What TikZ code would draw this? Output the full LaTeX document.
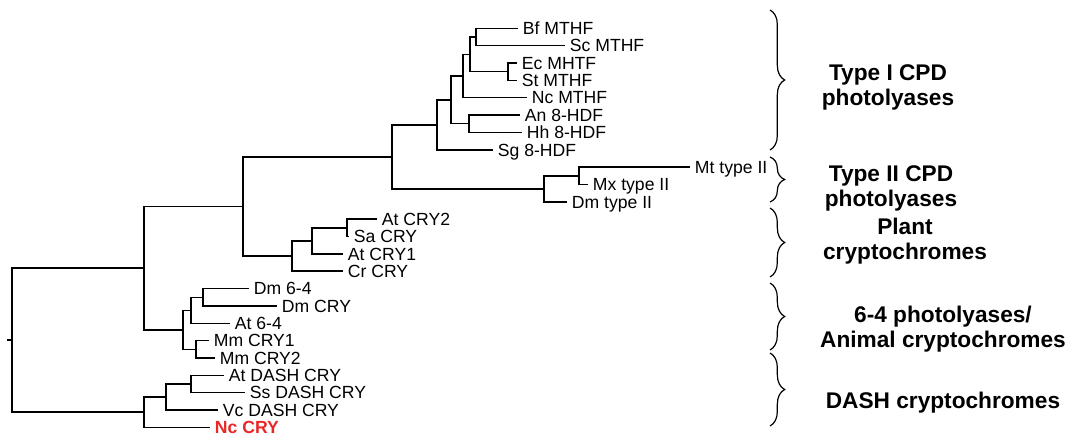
\documentclass[tikz,border=0pt]{standalone}
\usepackage{fontspec}
\setmainfont{Liberation Sans}
\usetikzlibrary{decorations.pathreplacing}
\definecolor{cryred}{RGB}{232,40,40}
\tikzset{
  leaf/.style={anchor=west, inner xsep=3.5pt, inner ysep=0pt, text height=9.45pt, text depth=0pt, font=\fontsize{13.2}{15}\selectfont},
  redleaf/.style={leaf, text=cryred, font=\fontsize{13.2}{15}\selectfont\bfseries},
  branch/.style={line width=1.1pt},
  group/.style={anchor=base, align=center, inner sep=0pt, font=\fontsize{17}{18.75}\selectfont\bfseries},
  clade/.style={decorate, decoration={brace, amplitude=11pt}, line width=0.9pt}
}
\begin{document}
\begin{tikzpicture}[x=0.75pt,y=-0.75pt]
\useasboundingbox (0,0) rectangle (1068,434);
% leaves
\node[leaf] (bf) at (518,28.3) {Bf MTHF};
\node[leaf] (sc) at (565,45.7) {Sc MTHF};
\node[leaf] (ec) at (517,63.0) {Ec MHTF};
\node[leaf] (st) at (517,80.4) {St MTHF};
\node[leaf] (ncm) at (527,97.7) {Nc MTHF};
\node[leaf] (an) at (520,115.1) {An 8-HDF};
\node[leaf] (hh) at (522,132.4) {Hh 8-HDF};
\node[leaf] (sg) at (493,149.8) {Sg 8-HDF};
\node[leaf] (mt) at (690,167.1) {Mt type II};
\node[leaf] (mx) at (588,184.5) {Mx type II};
\node[leaf] (dmii) at (567,201.8) {Dm type II};
\node[leaf] (atcrytwo) at (377,219.2) {At CRY2};
\node[leaf] (sa) at (349,236.5) {Sa CRY};
\node[leaf] (atcryone) at (343,253.9) {At CRY1};
\node[leaf] (cr) at (343,271.2) {Cr CRY};
\node[leaf] (dmsf) at (249,288.6) {Dm 6-4};
\node[leaf] (dmcry) at (277,305.9) {Dm CRY};
\node[leaf] (atsf) at (230,323.3) {At 6-4};
\node[leaf] (mmone) at (209,340.6) {Mm CRY1};
\node[leaf] (mmtwo) at (215,358.0) {Mm CRY2};
\node[leaf] (atdash) at (224,375.3) {At DASH CRY};
\node[leaf] (ssdash) at (245,392.7) {Ss DASH CRY};
\node[leaf] (vcdash) at (218,410.0) {Vc DASH CRY};
\node[redleaf] (nccry) at (210,427.4) {Nc CRY};
% inner nodes
\coordinate (bfsc) at (476,37.0);
\coordinate (ecst) at (508,71.7);
\coordinate (bfst) at (470,54.3);
\coordinate (bfnc) at (463,76.0);
\coordinate (anhh) at (469,123.7);
\coordinate (bfhh) at (451,99.9);
\coordinate (typeone) at (437,124.8);
\coordinate (mtmx) at (579,175.8);
\coordinate (typetwo) at (544,188.8);
\coordinate (cpd) at (392,156.8);
\coordinate (crysa) at (347,227.9);
\coordinate (cryone) at (312,240.9);
\coordinate (plant) at (292,256.0);
\coordinate (photo) at (243,206.4);
\coordinate (dm) at (203,297.3);
\coordinate (dmat) at (191,310.3);
\coordinate (mm) at (196,349.3);
\coordinate (animal) at (183,329.8);
\coordinate (upper) at (144,268.1);
\coordinate (atss) at (191,384.0);
\coordinate (atvc) at (166,397.0);
\coordinate (dash) at (144,412.2);
\coordinate (root) at (12,340.2);
\coordinate (base) at (7,340.2);
% branches
\draw[branch] (bfsc) |- (bf.west) (bfsc) |- (sc.west);
\draw[branch] (ecst) |- (ec.west) (ecst) |- (st.west);
\draw[branch] (bfst) |- (bfsc) (bfst) |- (ecst);
\draw[branch] (bfnc) |- (bfst) (bfnc) |- (ncm.west);
\draw[branch] (anhh) |- (an.west) (anhh) |- (hh.west);
\draw[branch] (bfhh) |- (bfnc) (bfhh) |- (anhh);
\draw[branch] (typeone) |- (bfhh) (typeone) |- (sg.west);
\draw[branch] (mtmx) |- (mt.west) (mtmx) |- (mx.west);
\draw[branch] (typetwo) |- (mtmx) (typetwo) |- (dmii.west);
\draw[branch] (cpd) |- (typeone) (cpd) |- (typetwo);
\draw[branch] (crysa) |- (atcrytwo.west) (crysa) |- (sa.west);
\draw[branch] (cryone) |- (crysa) (cryone) |- (atcryone.west);
\draw[branch] (plant) |- (cryone) (plant) |- (cr.west);
\draw[branch] (photo) |- (cpd) (photo) |- (plant);
\draw[branch] (dm) |- (dmsf.west) (dm) |- (dmcry.west);
\draw[branch] (dmat) |- (dm) (dmat) |- (atsf.west);
\draw[branch] (mm) |- (mmone.west) (mm) |- (mmtwo.west);
\draw[branch] (animal) |- (dmat) (animal) |- (mm);
\draw[branch] (upper) |- (photo) (upper) |- (animal);
\draw[branch] (atss) |- (atdash.west) (atss) |- (ssdash.west);
\draw[branch] (atvc) |- (atss) (atvc) |- (vcdash.west);
\draw[branch] (dash) |- (atvc) (dash) |- (nccry.west);
\draw[branch] (root) |- (upper) (root) |- (dash);
\draw[branch] (base) -- (root);
% braces
\draw[clade] (770,10) -- (770,150);
\draw[clade] (770,157) -- (770,202);
\draw[clade] (770,208) -- (770,277);
\draw[clade] (770,283) -- (770,350);
\draw[clade] (770,353) -- (770,426);
% group labels (base = last line)
\node[group] (typeI) at (888,105.5) {Type I CPD\\photolyases};
\node[group] (typeII) at (891,207) {Type II CPD\\photolyases};
\node[group] (plantcry) at (905,260) {Plant\\cryptochromes};
\node[group] (animalcry) at (943,347.5) {6-4 photolyases/\\Animal cryptochromes};
\node[group] (dashcry) at (943,408.3) {DASH cryptochromes};
\end{tikzpicture}
\end{document}
